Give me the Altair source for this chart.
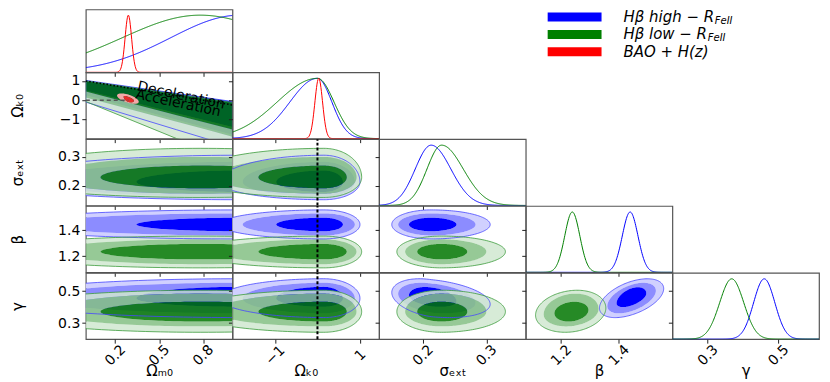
import altair as alt
import numpy as np
import pandas as pd

# ---------------- values ----------------
param_titles = ["Ωₘ₀", "Ωₖ₀", "σₑₓₜ", "β", "γ"]
param_domains = [[0.0, 1.0], [-2.0, 1.45], [0.131, 0.362], [1.078, 1.585], [0.2, 0.615]]
x_tick_values = [[0.2, 0.5, 0.8], [-1, 1], [0.2, 0.3], [1.2, 1.4], [0.3, 0.5]]
y_tick_values = [[0.2, 0.5, 0.8], [-1, 0, 1], [0.2, 0.3], [1.2, 1.4], [0.3, 0.5]]

series_names = ["high", "low", "bao"]
legend_labels = ["Hβ high − R", "Hβ low − R", "BAO + H(z)"]
legend_subscripts = ["FeII", "FeII", ""]
legend_colors = ["#0000ff", "#008000", "#ff0000"]

# 1D marginals: peak, width below peak, width above peak
high_1d_peak = [1.05, 0.0, 0.213, 1.439, 0.460]
high_1d_wlo = [0.47, 0.65, 0.025, 0.027, 0.030]
high_1d_whi = [0.47, 0.34, 0.031, 0.027, 0.030]
low_1d_peak = [0.78, 0.0, 0.2295, 1.239, 0.368]
low_1d_wlo = [0.53, 0.95, 0.023, 0.026, 0.034]
low_1d_whi = [0.55, 0.39, 0.034, 0.026, 0.034]
bao_1d_peak = [0.290, 0.03]
bao_1d_w = [0.022, 0.090]

# 2D contours: centre and limits of the [68%, 95%, 99.7%] regions, per parameter
high_2d_centre = [1.05, 0.15, 0.213, 1.443, 0.455]
high_2d_lo = [[0.345, -0.30, -0.60], [-0.97, -1.76, -2.30], [0.178, 0.161, 0.151],
              [1.392, 1.360, 1.333], [0.403, 0.362, 0.335]]
high_2d_hi = [[1.90, 2.20, 2.50], [0.60, 0.88, 1.00], [0.253, 0.283, 0.306],
              [1.495, 1.528, 1.555], [0.527, 0.553, 0.578]]
low_2d_centre = [0.78, 0.15, 0.229, 1.236, 0.372]
low_2d_lo = [[0.10, -0.25, -0.60], [-1.39, -2.40, -3.00], [0.191, 0.172, 0.159],
             [1.177, 1.140, 1.112], [0.310, 0.280, 0.243]]
low_2d_hi = [[1.60, 1.90, 2.20], [0.69, 0.92, 1.04], [0.270, 0.300, 0.330],
             [1.295, 1.330, 1.355], [0.434, 0.485, 0.506]]
corr_pairs = [(2, 4), (3, 4)]
high_corr = [-0.3, 0.5]
low_corr = [0.0, 0.17]

# Omega_m0 - Omega_k0 panel (degeneracy band), edges read at these Omega_m0 values
band_om = [0.0, 0.62, 0.82, 1.0]
high_band_top = [1.03, 0.35, 0.13, -0.07]
high_band_bottom = [[0.50, -0.68, -1.06, -1.40], [0.25, -1.02, -1.43, -1.80], [-0.10, -1.54, -2.00, -2.40]]
low_band_top = [1.00, 0.31, 0.08, -0.12]
low_band_bottom = [[0.45, -0.78, -1.17, -1.53], [0.14, -1.12, -1.53, -1.90], [-0.07, -2.00, -2.30, -2.60]]
bao_2d_centre = [0.288, 0.08]
bao_2d_lo = [[0.258, 0.213], [-0.13, -0.19]]
bao_2d_hi = [[0.328, 0.361], [0.20, 0.35]]
bao_corr = -0.6
q0_line_om = [0.0, 1.0]
q0_line_ok = [1.0, -0.25]
flat_line_om = [0.0, 0.29]
flat_line_ok = [0.0, 0.0]
region_labels = ["Deceleration", "Acceleration"]
region_label_om = [0.65, 0.63]
region_label_ok = [0.24, -0.17]

# ---------------- styling ----------------
FONT = "DejaVu Sans"
W = 147
ROW_H = [63, 66.5, 66.5, 66.5, 66.5]
fill_colors = {"high": ["#0000ff", "#8c8cff", "#d0d0ff"],
               "low": ["#007600", "#84bf84", "#d0e8d0"],
               "bao": ["#e82a2a", "#f4a8a8"]}
fill_opacity = {"high": 1.0, "low": 0.85, "bao": 1.0}
edge_colors = {"high": "#4646ff", "low": "#3c9c3c"}


def split_normal(grid, peak, wlo, whi):
    w = np.where(grid < peak, wlo, whi)
    return np.exp(-0.5 * ((grid - peak) / w) ** 2)


def ellipse_loop(cx, cy, xlo, xhi, ylo, yhi, rho, n=161):
    th = np.linspace(0.0, 2 * np.pi, n)
    u = np.cos(th)
    v = np.sin(th)
    x = np.where(u < 0, cx + (cx - xlo) * u, cx + (xhi - cx) * u)
    bu = yhi - cy
    bl = cy - ylo
    bm = 0.5 * (bu + bl)
    c = np.sqrt(1.0 - rho ** 2)
    y = cy + rho * bm * u + c * np.where(v > 0, bu, bl) * v
    return np.asarray(x), np.asarray(y)


def band_loop(top, bottom):
    x = list(band_om) + list(band_om[::-1]) + [band_om[0]]
    y = list(top) + list(bottom[::-1]) + [top[0]]
    return np.asarray(x), np.asarray(y)


def ring_df(outer, inner=None):
    xs = list(outer[0])
    ys = list(outer[1])
    if inner is not None:
        xs += list(inner[0][::-1])
        ys += list(inner[1][::-1])
    return pd.DataFrame({"x": xs, "y": ys, "k": np.arange(len(xs))})


def x_enc(c, show):
    kw = dict(values=x_tick_values[c], grid=False, domain=False, ticks=True, tickSize=4,
              labels=show, labelOverlap=False)
    if show:
        kw.update(labelAngle=315, labelAlign="center", labelBaseline="middle", labelPadding=12,
                  labelFontSize=14, title=param_titles[c], titleFontSize=15,
                  titleFontWeight="normal", titleX=W / 2, titleY=31,
                  titleAlign="center", titleBaseline="middle")
    else:
        kw.update(title=None)
    return alt.X("x:Q", scale=alt.Scale(domain=param_domains[c], nice=False, zero=False),
                 axis=alt.Axis(**kw))


def y_enc(r, show, h):
    kw = dict(values=y_tick_values[r], grid=False, domain=False, ticks=True, tickSize=4,
              labels=show, labelOverlap=False)
    if show:
        kw.update(labelFontSize=14, labelPadding=2, labelAlign="right", labelBaseline="middle",
                  title=param_titles[r], titleFontSize=15, titleFontWeight="normal",
                  titleAngle=270, titleX=-68, titleY=h / 2, titleAlign="center",
                  titleBaseline="middle")
    else:
        kw.update(title=None)
    return alt.Y("y:Q", scale=alt.Scale(domain=param_domains[r], nice=False, zero=False),
                 axis=alt.Axis(**kw))


def fill_layer(df, X, Y, fill, opacity):
    return alt.Chart(df).mark_line(
        filled=True, fill=fill, fillOpacity=opacity, stroke="transparent", strokeWidth=0,
        clip=True, interpolate="linear",
    ).encode(x=X, y=Y, order=alt.Order("k:Q"))


def edge_layer(loop, X, Y, color):
    df = ring_df(loop)
    return alt.Chart(df).mark_line(stroke=color, strokeWidth=0.8, clip=True, interpolate="linear").encode(
        x=X, y=Y, order=alt.Order("k:Q"))


def level_layers(loops, name, X, Y):
    """loops ordered [68%, 95%, 99.7%]; draw as nested rings, outermost first."""
    out = []
    n = len(loops)
    for lev in range(n - 1, -1, -1):
        inner = loops[lev - 1] if lev > 0 else None
        out.append(fill_layer(ring_df(loops[lev], inner), X, Y, fill_colors[name][lev], fill_opacity[name]))
    return out


def diag_panel(p, h):
    lo, hi = param_domains[p]
    grid = np.linspace(lo, hi, 301)
    frames = [
        pd.DataFrame({"x": grid, "d": split_normal(grid, high_1d_peak[p], high_1d_wlo[p], high_1d_whi[p]), "s": "high"}),
        pd.DataFrame({"x": grid, "d": split_normal(grid, low_1d_peak[p], low_1d_wlo[p], low_1d_whi[p]), "s": "low"}),
    ]
    if p < 2:
        frames.append(pd.DataFrame({"x": grid, "d": split_normal(grid, bao_1d_peak[p], bao_1d_w[p], bao_1d_w[p]), "s": "bao"}))
    df = pd.concat(frames, ignore_index=True)
    curves = alt.Chart(df).mark_line(strokeWidth=1, clip=True).encode(
        x=x_enc(p, p == 4),
        y=alt.Y("d:Q", scale=alt.Scale(domain=[0, 1.1], nice=False, zero=False), axis=None),
        color=alt.Color("s:N", scale=alt.Scale(domain=series_names, range=legend_colors), legend=None),
    )
    if p == 0:
        return curves.properties(width=W, height=h)
    ticks = alt.Chart(pd.DataFrame({"v": y_tick_values[p]})).mark_point(opacity=0, size=1).encode(
        x=alt.value(W / 2),
        y=alt.Y("v:Q", scale=alt.Scale(domain=param_domains[p], nice=False, zero=False),
                axis=alt.Axis(orient="left", values=y_tick_values[p], labels=False, ticks=True,
                              tickSize=4, domain=False, grid=False, title=None))
    )
    return alt.layer(curves, ticks).resolve_scale(y="independent").properties(width=W, height=h)


def band_panel(h):
    X = x_enc(0, False)
    Y = y_enc(1, True, h)
    high_loops = [band_loop(high_band_top, high_band_bottom[k]) for k in range(3)]
    low_loops = [band_loop(low_band_top, low_band_bottom[k]) for k in range(3)]
    bao_loops = [ellipse_loop(bao_2d_centre[0], bao_2d_centre[1], bao_2d_lo[0][k], bao_2d_hi[0][k],
                              bao_2d_lo[1][k], bao_2d_hi[1][k], bao_corr) for k in range(2)]
    layers = level_layers(high_loops, "high", X, Y) + level_layers(low_loops, "low", X, Y)
    layers.append(edge_layer(high_loops[2], X, Y, edge_colors["high"]))
    layers.append(edge_layer(low_loops[2], X, Y, edge_colors["low"]))
    layers += level_layers(bao_loops, "bao", X, Y)
    flat = pd.DataFrame({"x": flat_line_om, "y": flat_line_ok})
    layers.append(alt.Chart(flat).mark_line(color="#555555", strokeDash=[4, 3], strokeWidth=1.5, clip=True).encode(x=X, y=Y))
    q0 = pd.DataFrame({"x": q0_line_om, "y": q0_line_ok})
    layers.append(alt.Chart(q0).mark_line(color="#000000", strokeDash=[1.5, 2], strokeWidth=1.5, clip=True).encode(x=X, y=Y))
    txt = pd.DataFrame({"x": region_label_om, "y": region_label_ok, "t": region_labels})
    layers.append(alt.Chart(txt).mark_text(angle=12, fontSize=14, font=FONT, color="#000000",
                                           align="center", baseline="middle").encode(x=X, y=Y, text="t:N"))
    return alt.layer(*layers).properties(width=W, height=h)


def panel_2d(r, c, h):
    X = x_enc(c, r == 4)
    Y = y_enc(r, c == 0, h)
    if (c, r) in corr_pairs:
        k = corr_pairs.index((c, r))
        rhos = {"high": high_corr[k], "low": low_corr[k]}
    else:
        rhos = {"high": 0.0, "low": 0.0}
    layers = []
    outers = []
    for name, centre, lo, hi in [("high", high_2d_centre, high_2d_lo, high_2d_hi),
                                 ("low", low_2d_centre, low_2d_lo, low_2d_hi)]:
        loops = [ellipse_loop(centre[c], centre[r], lo[c][k], hi[c][k], lo[r][k], hi[r][k], rhos[name])
                 for k in range(3)]
        layers += level_layers(loops, name, X, Y)
        outers.append((loops[2], edge_colors[name]))
    for loop, col in outers:
        layers.append(edge_layer(loop, X, Y, col))
    if c == 1:
        rule = pd.DataFrame({"x": [0.0], "y": [param_domains[r][0]], "y2": [param_domains[r][1]]})
        layers.append(alt.Chart(rule).mark_rule(color="#000000", strokeDash=[3, 2], strokeWidth=2).encode(
            x=X, y=Y, y2=alt.Y2("y2:Q")))
    return alt.layer(*layers).properties(width=W, height=h)


def blank_cell(h):
    return alt.Chart(pd.DataFrame({"v": [0]})).mark_point(opacity=0, size=1).encode(
        x=alt.value(W / 2), y=alt.value(h / 2)).properties(
        width=W, height=h, view=alt.ViewBackground(stroke="transparent"))


def legend_chart(h):
    text_x = 392
    sub_x = [text_x + 91.5, text_x + 84.5, text_x]
    df = pd.DataFrame({"i": [0, 1, 2], "label": legend_labels, "sub": legend_subscripts,
                       "color": legend_colors, "subx": sub_x})
    ys = alt.Y("i:Q", scale=alt.Scale(domain=[0, 2], range=[7.5, 42.5]), axis=None)
    bars = alt.Chart(df).mark_rule(strokeWidth=9).encode(
        x=alt.value(316), x2=alt.value(370), y=ys, color=alt.Color("color:N", scale=None))
    labels = alt.Chart(df).mark_text(align="left", baseline="middle", fontSize=15, fontStyle="italic",
                                     font=FONT, color="#000000").encode(
        x=alt.value(text_x), y=ys, text="label:N")
    subs = alt.Chart(df).mark_text(align="left", baseline="middle", fontSize=10, fontStyle="italic",
                                   font=FONT, color="#000000", dy=4).encode(
        x=alt.X("subx:Q", scale=None), y=ys, text="sub:N")
    return alt.layer(bars, labels, subs).properties(
        width=W, height=h, view=alt.ViewBackground(stroke="transparent"))


cells = []
for r in range(5):
    h = ROW_H[r]
    for c in range(5):
        if c == r:
            cells.append(diag_panel(r, h))
        elif c > r:
            if r == 0 and c == 1:
                cells.append(legend_chart(h))
            else:
                cells.append(blank_cell(h))
        elif (r, c) == (1, 0):
            cells.append(band_panel(h))
        else:
            cells.append(panel_2d(r, c, h))

chart = (
    alt.concat(*cells, columns=5, spacing=0, bounds="flush", align="each")
    .properties(padding={"left": 2, "right": 2, "top": 0, "bottom": 0})
    .configure_view(stroke="#555555", strokeWidth=1.2)
    .configure_axis(labelFont=FONT, titleFont=FONT, tickColor="#222222", tickWidth=1,
                    labelColor="#000000", titleColor="#000000")
)

chart.save("out.html", embed_options={"renderer": "svg", "actions": False})
